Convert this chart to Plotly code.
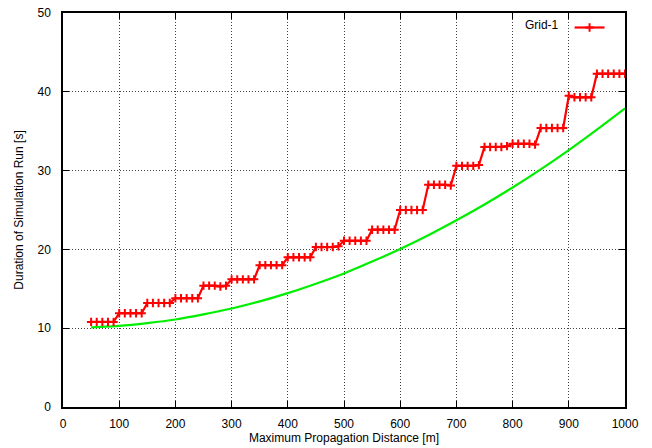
import plotly.graph_objects as go

# Maximum propagation distance sampled every 10 m (50 .. 1000)
distance = list(range(50, 1001, 10))

# Measured run duration of Grid-1 at each sampled distance
grid1 = [
    10.8, 10.8, 10.8, 10.8, 10.8,      # 50-90
    11.9, 11.9, 11.9, 11.9, 11.9,      # 100-140
    13.2, 13.2, 13.2, 13.2, 13.2,      # 150-190
    13.8, 13.8, 13.8, 13.8, 13.8,      # 200-240
    15.4, 15.4, 15.4, 15.3, 15.4,      # 250-290
    16.2, 16.2, 16.2, 16.2, 16.2,      # 300-340
    18.0, 18.0, 18.0, 18.0, 18.0,      # 350-390
    19.0, 19.0, 19.0, 19.0, 19.0,      # 400-440
    20.3, 20.3, 20.3, 20.3, 20.4,      # 450-490
    21.1, 21.1, 21.1, 21.1, 21.1,      # 500-540
    22.5, 22.5, 22.5, 22.5, 22.5,      # 550-590
    25.0, 25.0, 25.0, 25.0, 25.0,      # 600-640
    28.2, 28.2, 28.2, 28.2, 28.1,      # 650-690
    30.6, 30.6, 30.6, 30.6, 30.7,      # 700-740
    33.0, 33.0, 33.0, 33.0, 33.1,      # 750-790
    33.4, 33.4, 33.4, 33.4, 33.3,      # 800-840
    35.4, 35.4, 35.4, 35.4, 35.4,      # 850-890
    39.5, 39.3, 39.3, 39.3, 39.3,      # 900-940
    42.3, 42.3, 42.3, 42.3, 42.3, 42.3  # 950-1000
]

# Reference curve
ref_distance = [50, 100, 150, 200, 250, 300, 350, 400, 450, 500, 550, 600,
                650, 700, 750, 800, 850, 900, 950, 1000]
ref_duration = [10.1, 10.3, 10.65, 11.1, 11.75, 12.5, 13.4, 14.45, 15.65, 16.95,
                18.45, 20.05, 21.8, 23.7, 25.7, 27.85, 30.15, 32.6, 35.2, 37.9]

x_ticks = [0, 100, 200, 300, 400, 500, 600, 700, 800, 900, 1000]
y_ticks = [0, 10, 20, 30, 40, 50]

FONT = "Liberation Sans, Arial, Helvetica, sans-serif"

fig = go.Figure()
fig.add_trace(go.Scatter(
    x=ref_distance, y=ref_duration, mode="lines",
    line=dict(color="#00ee00", width=2.2, shape="spline", smoothing=0.6),
    showlegend=False, name="fit"))
fig.add_trace(go.Scatter(
    x=distance, y=grid1, mode="lines+markers", name="",
    line=dict(color="#ff0000", width=2.2),
    marker=dict(symbol="cross-thin", size=6,
                line=dict(width=2, color="#ff0000"), color="#ff0000")))

axis_common = dict(
    showline=True, linecolor="black", linewidth=1.5, mirror="allticks",
    ticks="inside", ticklen=6, tickcolor="black", tickwidth=1,
    showgrid=True, gridcolor="#444444", gridwidth=1, griddash="1px,2px",
    zeroline=False, automargin=False,
    tickfont=dict(family=FONT, size=12, color="black"),
)

fig.update_xaxes(range=[0, 1000], tickvals=x_ticks, ticklabelstandoff=5,
                 title=dict(text="Maximum Propagation Distance [m]",
                            font=dict(family=FONT, size=12, color="black"),
                            standoff=2),
                 **axis_common)
fig.update_yaxes(range=[0, 50], tickvals=y_ticks, ticklabelstandoff=8,
                 title=dict(text="Duration of Simulation Run [s]",
                            font=dict(family=FONT, size=12, color="black"),
                            standoff=11),
                 **axis_common)

fig.update_layout(
    width=652, height=448,
    margin=dict(l=63, r=27, t=13, b=41, autoexpand=False),
    plot_bgcolor="white", paper_bgcolor="white",
    font=dict(family=FONT, size=12, color="black"),
    legend=dict(x=0.982, y=1.0, xanchor="right", yanchor="top",
                bgcolor="rgba(0,0,0,0)",
                title=dict(text="Grid-1 ", side="left",
                           font=dict(family=FONT, size=12, color="black")),
                font=dict(size=1), itemwidth=30),
)

fig.write_html("out.html")
